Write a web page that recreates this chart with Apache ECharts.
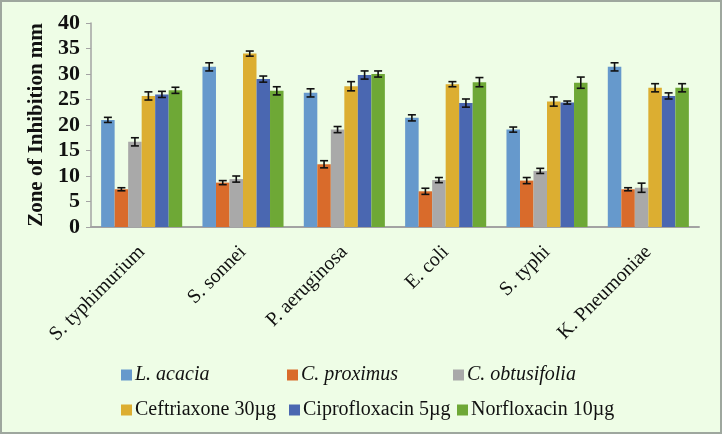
<!DOCTYPE html>
<html>
<head>
<meta charset="utf-8">
<script src="https://cdn.jsdelivr.net/npm/echarts@6/dist/echarts.min.js"></script>
<style>
html,body{margin:0;padding:0;background:#eefde6;}
#wrap{width:722px;height:434px;box-sizing:border-box;border:2px solid #9ea79e;position:relative;background:#eefde6;}
#chart{position:absolute;left:-2px;top:-2px;width:722px;height:434px;}
</style>
</head>
<body>
<div id="wrap"><div id="chart"></div></div>
<script>
const categories = ['S. typhimurium', 'S. sonnei', 'P. aeruginosa', 'E. coli', 'S. typhi', 'K. Pneumoniae'];
const seriesNames = ['L. acacia', 'C. proximus', 'C. obtusifolia', 'Ceftriaxone 30µg', 'Ciprofloxacin 5µg', 'Norfloxacin 10µg'];
const lAcacia      = [21.0, 31.4, 26.3, 21.4, 19.1, 31.4];
const cProximus    = [7.4, 8.7, 12.3, 7.0, 9.1, 7.4];
const cObtusifolia = [16.7, 9.4, 19.1, 9.2, 11.0, 7.7];
const ceftriaxone  = [25.7, 34.0, 27.6, 28.0, 24.6, 27.3];
const ciprofloxacin= [26.0, 29.0, 29.8, 24.3, 24.4, 25.7];
const norfloxacin  = [26.8, 26.7, 30.0, 28.4, 28.3, 27.3];
const errLAcacia      = [0.5, 0.8, 0.8, 0.6, 0.5, 0.8];
const errCProximus    = [0.3, 0.4, 0.7, 0.6, 0.6, 0.3];
const errCObtusifolia = [0.8, 0.6, 0.6, 0.5, 0.5, 0.9];
const errCeftriaxone  = [0.8, 0.5, 0.9, 0.5, 0.9, 0.8];
const errCiprofloxacin= [0.6, 0.6, 0.8, 0.8, 0.3, 0.6];
const errNorfloxacin  = [0.6, 0.8, 0.6, 0.9, 1.1, 0.8];
const yTicks = [0, 5, 10, 15, 20, 25, 30, 35, 40];

const values = [lAcacia, cProximus, cObtusifolia, ceftriaxone, ciprofloxacin, norfloxacin];
const errors = [errLAcacia, errCProximus, errCObtusifolia, errCeftriaxone, errCiprofloxacin, errNorfloxacin];
const colors = ['#6699cc', '#d96b2b', '#a9a9a9', '#dcae31', '#4a67b1', '#6ea836'];
const font = 'Liberation Serif';
const catGapRatio = 0.2;

const barSeries = seriesNames.map((n, i) => ({
  name: n, type: 'bar', data: values[i], barGap: 0, barCategoryGap: '20%',
  itemStyle: { color: colors[i] }, z: 2
}));

const errData = [];
values.forEach((arr, s) => arr.forEach((v, c) => {
  errData.push([c, s, v - errors[s][c], v + errors[s][c]]);
}));

const errSeries = {
  type: 'custom', name: 'err', z: 5, silent: true,
  data: errData,
  encode: { x: 0, y: [2, 3] },
  renderItem: function (params, api) {
    const c = api.value(0), s = api.value(1);
    const band = api.size([1, 0])[0];
    const bw = band * (1 - catGapRatio) / 6;
    const off = (s - 2.5) * bw;
    const lo = api.coord([c, api.value(2)]);
    const hi = api.coord([c, api.value(3)]);
    const x = lo[0] + off;
    const hw = 4;
    const st = { stroke: '#111', lineWidth: 1.6 };
    return { type: 'group', children: [
      { type: 'line', shape: { x1: x, y1: lo[1], x2: x, y2: hi[1] }, style: st },
      { type: 'line', shape: { x1: x - hw, y1: lo[1], x2: x + hw, y2: lo[1] }, style: st },
      { type: 'line', shape: { x1: x - hw, y1: hi[1], x2: x + hw, y2: hi[1] }, style: st }
    ]};
  }
};

const legendPos = [[116, 360], [282, 360], [448, 360], [116, 395], [284, 395], [452, 395]];
const legends = seriesNames.map((n, i) => ({
  data: [n], left: legendPos[i][0], top: legendPos[i][1],
  itemWidth: 11, itemHeight: 11, itemGap: 4, icon: 'rect', selectedMode: false,
  textStyle: { fontFamily: font, fontSize: 20, color: '#111', fontStyle: i < 3 ? 'italic' : 'normal', padding: [0, 0, 0, -2] }
}));

const chart = echarts.init(document.getElementById('chart'), null, { renderer: 'canvas' });
chart.setOption({
  backgroundColor: 'transparent',
  animation: false,
  legend: legends,
  grid: { left: 91, right: 23, top: 23, bottom: 207 },
  xAxis: {
    type: 'category', data: categories,
    axisLine: { lineStyle: { color: '#a3a3a3', width: 2 } },
    axisTick: { show: false },
    axisLabel: { rotate: 45, interval: 0, margin: 22, fontFamily: font, fontSize: 20, color: '#111' }
  },
  yAxis: {
    type: 'value', min: 0, max: 40, interval: 5,
    name: 'Zone of Inhibition mm', nameLocation: 'middle', nameRotate: 90, nameGap: 43,
    nameTextStyle: { fontFamily: font, fontSize: 21, fontWeight: 'bold', color: '#111' },
    axisLine: { show: true, lineStyle: { color: '#a3a3a3', width: 1.5 } },
    axisTick: { show: true, length: 5, lineStyle: { color: '#a3a3a3' } },
    splitLine: { show: false },
    axisLabel: { margin: 11, fontFamily: font, fontSize: 22, fontWeight: 'bold', color: '#111',
      formatter: v => yTicks.includes(v) ? String(v) : '' }
  },
  series: barSeries.concat([errSeries])
});
</script>
</body>
</html>
